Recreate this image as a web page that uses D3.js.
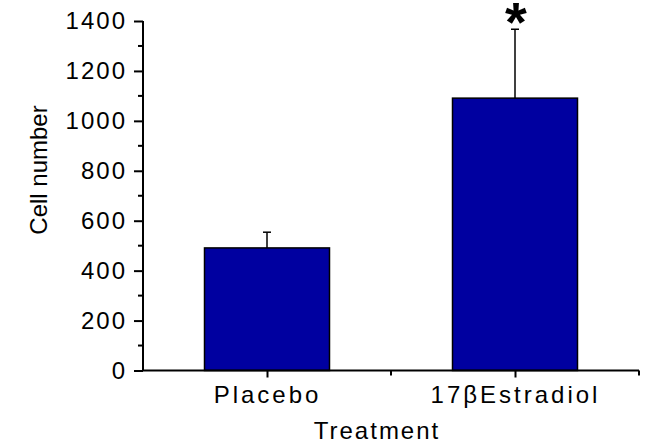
<!DOCTYPE html>
<html><head><meta charset="utf-8">
<script src="https://cdn.jsdelivr.net/npm/d3@7"></script>
<style>body{margin:0;background:#fff}svg{display:block}text{font-family:"Liberation Sans",Arial,sans-serif;fill:#000}</style>
</head><body>
<script>
const categories = ["Placebo", "17βEstradiol"];
const values = [491, 1091];
const errors = [63, 276];
const significance = ["", "*"];
const yTicks = [0, 200, 400, 600, 800, 1000, 1200, 1400];
const yLabel = "Cell number";
const xLabel = "Treatment";

const W = 648, H = 443;
const svg = d3.select("body").append("svg").attr("width", W).attr("height", H);

const x = d3.scaleLinear().domain([0.5, 2.5]).range([143, 639]);
const y = d3.scaleLinear().domain([0, 1400]).range([370.5, 21]);
const barW = 125;

// bars
svg.selectAll("rect.bar").data(values).enter().append("rect")
  .attr("x", (d, i) => x(i + 1) - barW / 2)
  .attr("y", d => y(d))
  .attr("width", barW)
  .attr("height", d => y(0) - y(d))
  .attr("fill", "#0000a0")
  .attr("stroke", "#000").attr("stroke-width", 1.5);

// error bars (upper only)
const eg = svg.selectAll("g.err").data(values).enter().append("g");
eg.append("line")
  .attr("x1", (d, i) => x(i + 1)).attr("x2", (d, i) => x(i + 1))
  .attr("y1", d => y(d)).attr("y2", (d, i) => y(d + errors[i]))
  .attr("stroke", "#000").attr("stroke-width", 1.5);
eg.append("line")
  .attr("x1", (d, i) => x(i + 1) - 4).attr("x2", (d, i) => x(i + 1) + 4)
  .attr("y1", (d, i) => y(d + errors[i])).attr("y2", (d, i) => y(d + errors[i]))
  .attr("stroke", "#000").attr("stroke-width", 1.5);

// significance
svg.selectAll("text.sig").data(significance).enter().append("text")
  .attr("x", (d, i) => x(i + 1) + 1)
  .attr("y", (d, i) => y(values[i] + errors[i]) + 12)
  .attr("text-anchor", "middle")
  .attr("font-size", 56).attr("font-weight", "bold")
  .text(d => d);

// y axis
const yAxis = d3.axisLeft(y).tickValues(yTicks).tickSize(9).tickPadding(9).tickFormat(d3.format("d"));
const ga = svg.append("g").attr("transform", "translate(143,0)").call(yAxis);
ga.select(".domain").attr("stroke-width", 2).attr("d", `M0,${y(1400)}V${y(0)}`);
ga.selectAll(".tick line").attr("stroke-width", 2);
ga.selectAll(".tick text").attr("font-size", 24).attr("letter-spacing", 2).attr("dx", 2)
  .style("font-family", '"Liberation Sans",Arial,sans-serif');
const minor = d3.range(100, 1400, 200);
ga.selectAll("line.minor").data(minor).enter().append("line")
  .attr("x1", -5).attr("x2", 0).attr("y1", d => y(d)).attr("y2", d => y(d))
  .attr("stroke", "#000").attr("stroke-width", 2);

// x axis
const xAxis = d3.axisBottom(x).tickValues([1, 2]).tickSize(7).tickPadding(8)
  .tickFormat(d => categories[d - 1]);
const gx = svg.append("g").attr("transform", `translate(0,${y(0)})`).call(xAxis);
gx.select(".domain").attr("stroke-width", 2).attr("d", `M${x(0.5)},0H${x(2.5)}`);
gx.selectAll(".tick line").attr("stroke-width", 2);
gx.selectAll(".tick text").attr("font-size", 24).attr("letter-spacing", 3)
  .style("font-family", '"Liberation Sans",Arial,sans-serif');
gx.selectAll("line.minor").data([1.5, 2.5]).enter().append("line")
  .attr("x1", d => x(d)).attr("x2", d => x(d)).attr("y1", 0).attr("y2", 5)
  .attr("stroke", "#000").attr("stroke-width", 2);

// axis labels
svg.append("text").attr("transform", "translate(47,170) rotate(-90)")
  .attr("text-anchor", "middle").attr("font-size", 24).text(yLabel);
svg.append("text").attr("x", 377).attr("y", 439)
  .attr("text-anchor", "middle").attr("font-size", 24).attr("letter-spacing", 2).text(xLabel);
</script>
</body></html>
